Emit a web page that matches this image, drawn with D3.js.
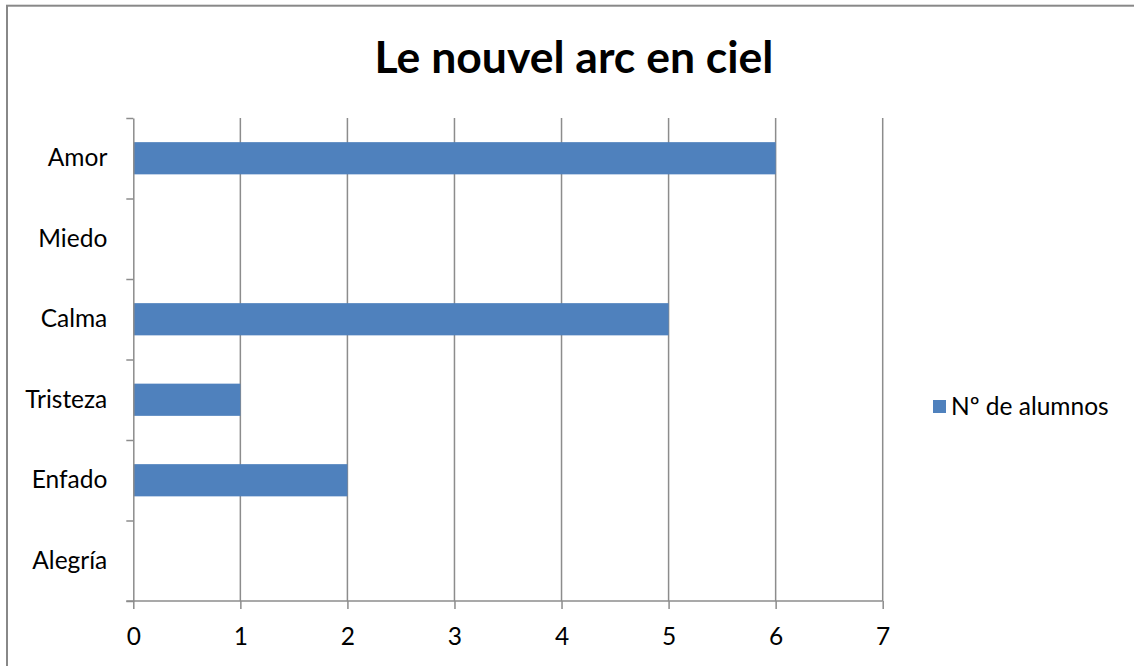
<!DOCTYPE html>
<html>
<head>
<meta charset="utf-8">
<script src="https://cdn.jsdelivr.net/npm/d3@7"></script>
<style>
  body { margin: 0; background: #fff; }
  text { font-family: Lato, "Open Sans", sans-serif; fill: #000; }
</style>
</head>
<body>
<div id="content"></div>
<script>
// data (Excel order, drawn bottom to top)
const categories = ["Alegría", "Enfado", "Tristeza", "Calma", "Miedo", "Amor"];
const values = [0, 2, 1, 5, 0, 6];
const seriesName = "Nº de alumnos";
const xTicks = [0, 1, 2, 3, 4, 5, 6, 7];
const title = "Le nouvel arc en ciel";

const width = 1134, height = 666;
const barColor = "#4f81bd";
const gridColor = "#8c8c8c";
const labelSize = 24.5;

const svg = d3.select("#content").append("svg")
    .attr("width", width)
    .attr("height", height);

// outer border
svg.append("rect")
    .attr("x", 7).attr("y", 5.7)
    .attr("width", width + 10).attr("height", height + 10)
    .attr("fill", "none")
    .attr("stroke", "#888")
    .attr("stroke-width", 2);

const plot = {left: 133.3, right: 882.7, top: 118, bottom: 601};

const x = d3.scaleLinear().domain([0, 7]).range([plot.left, plot.right]);
const y = d3.scaleBand()
    .domain(categories.slice().reverse())
    .range([plot.top, plot.bottom])
    .paddingInner(0.6).paddingOuter(0.3);
const yEdge = d3.scaleLinear().domain([0, categories.length]).range([plot.top, plot.bottom]);

// vertical gridlines
svg.append("g").selectAll("line")
    .data(xTicks.filter(d => d > 0))
    .join("line")
    .attr("x1", d => x(d)).attr("x2", d => x(d))
    .attr("y1", plot.top).attr("y2", plot.bottom)
    .attr("stroke", gridColor).attr("stroke-width", 1.5);

// bars
svg.append("g").selectAll("rect")
    .data(categories.map((c, i) => ({c: c, v: values[i]})).filter(d => d.v > 0))
    .join("rect")
    .attr("x", x(0))
    .attr("y", d => y(d.c))
    .attr("width", d => x(d.v) - x(0))
    .attr("height", y.bandwidth())
    .attr("fill", barColor);

// x axis
const xAxis = svg.append("g")
    .attr("transform", `translate(0,${plot.bottom})`)
    .call(d3.axisBottom(x).tickValues(xTicks).tickFormat(d3.format("d"))
        .tickSize(8).tickPadding(19).tickSizeOuter(0));
xAxis.selectAll("line").attr("stroke", gridColor).attr("stroke-width", 1.5);
xAxis.select(".domain").attr("stroke", gridColor).attr("stroke-width", 1.5)
    .attr("d", `M${plot.left - 7},0H${plot.right}`);
xAxis.selectAll("text").attr("font-size", labelSize).attr("font-family", "Lato, sans-serif");

// y axis: edge ticks
const yAxis = svg.append("g")
    .attr("transform", `translate(${plot.left},0)`)
    .call(d3.axisLeft(yEdge).ticks(categories.length).tickSize(7).tickFormat("").tickSizeOuter(0));
yAxis.selectAll("line").attr("stroke", gridColor).attr("stroke-width", 1.5);
yAxis.select(".domain").attr("stroke", gridColor).attr("stroke-width", 1.5);

// y labels
const yLab = svg.append("g")
    .attr("transform", `translate(${plot.left},0)`)
    .call(d3.axisLeft(y).tickSize(0).tickPadding(26));
yLab.select(".domain").remove();
yLab.selectAll("text").attr("font-size", labelSize).attr("font-family", "Lato, sans-serif");

// title
svg.append("text")
    .attr("x", 574).attr("y", 73)
    .attr("text-anchor", "middle")
    .attr("font-weight", "bold")
    .attr("font-size", 44.5)
    .text(title);

// legend
const leg = svg.append("g").attr("transform", "translate(933,400)");
leg.append("rect").attr("width", 13).attr("height", 13).attr("fill", barColor);
leg.append("text").attr("x", 18).attr("y", 6.5)
    .attr("dy", "0.35em")
    .attr("font-size", labelSize)
    .text(seriesName);
</script>
</body>
</html>
